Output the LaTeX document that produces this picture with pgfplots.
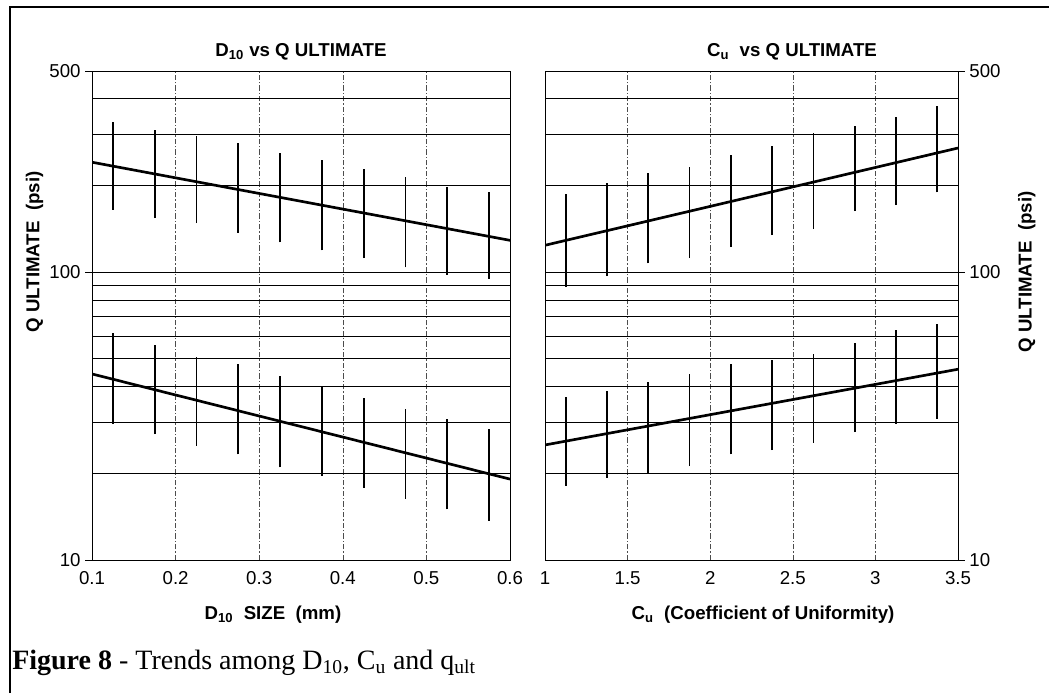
\documentclass[border=0pt]{standalone}
\usepackage{fontspec}
\setmainfont{Liberation Serif}
\setsansfont{Liberation Sans}
\usepackage{pgfplots}
\pgfplotsset{compat=1.18}
\usepackage{pgfplotstable}

% D10 panel: x, low and high end of each bar
\pgfplotstableread{
x lo hi
0.125 165 332
0.175 154 311
0.225 148 297
0.275 137 281
0.325 127 259
0.375 119 245
0.425 112 228
0.475 104 214
0.525 98 197
0.575 95 190
}\dup
\pgfplotstableread{
x lo hi
0.125 29.7 61.4
0.175 27.4 55.8
0.225 24.9 50.7
0.275 23.3 47.9
0.325 21.0 43.5
0.375 19.6 39.9
0.425 17.8 36.5
0.475 16.3 33.4
0.525 15.0 30.9
0.575 13.7 28.5
}\dlow
% Cu panel
\pgfplotstableread{
x lo hi
1.125 88.7 186.6
1.375 96.8 203.7
1.625 107.4 220.6
1.875 111.8 231.5
2.125 122.1 254.9
2.375 134.4 273.8
2.625 141.0 303.8
2.875 162.9 321.4
3.125 170.9 345.3
3.375 189.5 376.8
}\cuup
\pgfplotstableread{
x lo hi
1.125 18.1 36.8
1.375 19.3 38.6
1.625 20.0 41.5
1.875 21.2 44.3
2.125 23.3 47.9
2.375 24.1 49.5
2.625 25.5 51.9
2.875 27.8 56.7
3.125 29.7 62.9
3.375 30.9 66.0
}\culow

\pgfplotsset{
  /pgf/number format/assume math mode=true,
  every axis y grid/.style={black, line width=0.6pt},
  every axis x grid/.style={black!70, line width=0.45pt, dash pattern=on 4pt off 1.5pt on 1pt off 1.5pt},
}

\begin{document}
\begin{tikzpicture}
\useasboundingbox (0,0) rectangle (786.75pt,519.75pt);
\draw[line width=1pt] (7.5pt,0) -- (7.5pt,514.5pt) -- (800pt,514.5pt);

\begin{axis}[at={(69pt,99.75pt)}, anchor=south west,
  scale only axis, width=313.5pt, height=366.75pt,
  ymode=log, ymin=10, ymax=500,
  ytick={10,100,500}, yticklabels={10,100,500},
  minor ytick={20,30,40,50,60,70,80,90,200,300,400},
  ymajorgrids, yminorgrids, xmajorgrids,
  axis line style={black, line width=0.6pt},
  xtick style={draw=none}, ytick style={black, line width=0.6pt}, ytick pos=left,
  tick align=outside, major tick length=5pt, minor tick length=0pt,
  tick label style={font=\sffamily\fontsize{14}{14}\selectfont},
  xmin=0.1, xmax=0.6, xtick={0.1,0.2,0.3,0.4,0.5,0.6},
  xticklabels={0.1,0.2,0.3,0.4,0.5,0.6}]
  \addplot[draw=none, mark=none, forget plot, error bars/.cd, y dir=plus, y explicit, error mark=none,
    error bar style={black, line width=1.4pt}]
    table[x=x, y=lo, y error expr=\thisrow{hi}-\thisrow{lo}] {\dup};
  \addplot[draw=none, mark=none, forget plot, error bars/.cd, y dir=plus, y explicit, error mark=none,
    error bar style={black, line width=1.4pt}]
    table[x=x, y=lo, y error expr=\thisrow{hi}-\thisrow{lo}] {\dlow};
  \addplot[black, line width=2pt, mark=none] coordinates {(0.1,241) (0.6,129)};
  \addplot[black, line width=2pt, mark=none] coordinates {(0.1,44.3) (0.6,19.1)};
\end{axis}

\begin{axis}[at={(408.75pt,99.75pt)}, anchor=south west,
  scale only axis, width=309.75pt, height=366.75pt,
  ymode=log, ymin=10, ymax=500,
  ytick={10,100,500}, yticklabels={10,100,500},
  minor ytick={20,30,40,50,60,70,80,90,200,300,400},
  ymajorgrids, yminorgrids, xmajorgrids,
  axis line style={black, line width=0.6pt},
  xtick style={draw=none}, ytick style={black, line width=0.6pt}, ytick pos=right,
  tick align=outside, major tick length=5pt, minor tick length=0pt,
  tick label style={font=\sffamily\fontsize{14}{14}\selectfont},
  xmin=1, xmax=3.5, xtick={1,1.5,2,2.5,3,3.5},
  xticklabels={1,1.5,2,2.5,3,3.5}, yticklabel pos=right]
  \addplot[draw=none, mark=none, forget plot, error bars/.cd, y dir=plus, y explicit, error mark=none,
    error bar style={black, line width=1.4pt}]
    table[x=x, y=lo, y error expr=\thisrow{hi}-\thisrow{lo}] {\cuup};
  \addplot[draw=none, mark=none, forget plot, error bars/.cd, y dir=plus, y explicit, error mark=none,
    error bar style={black, line width=1.4pt}]
    table[x=x, y=lo, y error expr=\thisrow{hi}-\thisrow{lo}] {\culow};
  \addplot[black, line width=2pt, mark=none] coordinates {(1,124) (3.5,270)};
  \addplot[black, line width=2pt, mark=none] coordinates {(1,25.1) (3.5,46.0)};
\end{axis}

\begin{scope}[every node/.style={font=\sffamily\bfseries\fontsize{14}{14}\selectfont, inner sep=0pt}]
\node at (225.75pt,480.75pt) {D\textsubscript{10} vs Q ULTIMATE};
\node at (594pt,480.75pt) {C\textsubscript{u}\ \ vs Q ULTIMATE};
\node[rotate=90] at (26pt,330.75pt) {Q ULTIMATE\ \ (psi)};
\node[rotate=90] at (770pt,315.75pt) {Q ULTIMATE\ \ (psi)};
\node at (204.75pt,58.5pt) {D\textsubscript{10}\ \ SIZE\ \ (mm)};
\node at (572.25pt,58.5pt) {C\textsubscript{u}\ \ (Coefficient of Uniformity)};
\end{scope}
\node[anchor=base west, inner sep=0pt, font=\fontsize{21}{21}\selectfont] at (9pt,18pt)
  {\textbf{Figure 8} - Trends among D\textsubscript{10}, C\textsubscript{u} and q\textsubscript{ult}};
\end{tikzpicture}
\end{document}
